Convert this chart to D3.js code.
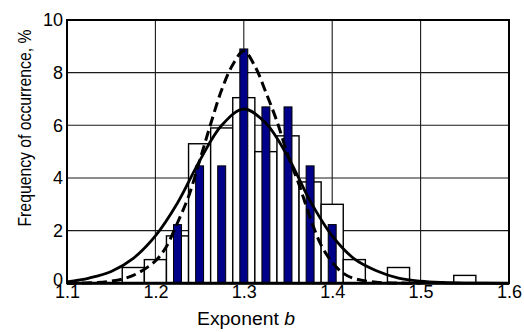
<!DOCTYPE html>
<html>
<head>
<meta charset="utf-8">
<script src="https://cdn.jsdelivr.net/npm/d3@7"></script>
<style>
  html, body { margin: 0; padding: 0; background: #fff; }
  svg { display: block; }
  text { font-family: "Liberation Sans", Arial, sans-serif; fill: #000; }
</style>
</head>
<body>
<svg id="chart" width="524" height="332"></svg>
<script>
// ---- data ----
const whiteCenters = [1.175, 1.2, 1.225, 1.25, 1.275, 1.3, 1.325, 1.35, 1.375, 1.4, 1.425, 1.475, 1.55];
const whiteValues  = [0.6,   0.9, 1.8,   5.3,  5.9,   7.05, 5.0,  5.6,  3.85,  3.0, 0.9,   0.6,   0.3];

const blueCenters = [1.225, 1.25, 1.275, 1.3,  1.325, 1.35, 1.375, 1.4];
const blueValues  = [2.23,  4.46, 4.46,  8.9,  6.7,   6.7,  4.46,  2.23];

// solid fitted curve (read points)
const solidX = [1.10, 1.125, 1.15, 1.175, 1.20, 1.225, 1.25, 1.275, 1.30, 1.325, 1.35, 1.375, 1.40, 1.425, 1.45, 1.475, 1.50, 1.525, 1.55, 1.60];
const solidY = [0.05, 0.2,   0.45, 0.95,  1.8,  3.05,  4.65, 6.0,   6.62, 6.08,  4.8,  3.13,  1.8,  0.93,  0.48, 0.2,   0.08, 0.03,  0.01, 0.0];

// dashed fitted curve (read points)
const dashX = [1.10, 1.125, 1.15, 1.175, 1.20, 1.2125, 1.225, 1.2375, 1.25, 1.2625, 1.275, 1.2875, 1.30, 1.3125, 1.325, 1.3375, 1.35, 1.3625, 1.375, 1.3875, 1.40, 1.4125, 1.425, 1.45, 1.475, 1.50];
const dashY = [0.0,  0.02,  0.08, 0.3,   0.85, 1.4,    2.3,   3.3,    4.65, 6.05,   7.35,  8.3,    8.82, 8.25,   7.25,  6.15,   4.85, 3.75,   2.5,   1.45,   0.8,  0.38,   0.18,  0.04, 0.01,  0.0];

const xTicks = [1.1, 1.2, 1.3, 1.4, 1.5, 1.6];
const yTicks = [0, 2, 4, 6, 8, 10];

const whiteWidth = 0.025;
const blueWidth = 0.009;

// ---- layout ----
const svg = d3.select("#chart");
const mLeft = 67, mRight = 509, mTop = 20, mBottom = 283.3;

const x = d3.scaleLinear().domain([1.1, 1.6]).range([mLeft, mRight]);
const y = d3.scaleLinear().domain([0, 10]).range([mBottom, mTop]);

// gridlines
const grid = svg.append("g");
grid.selectAll("line.vx").data(xTicks.slice(1, -1)).enter().append("line")
  .attr("x1", d => x(d)).attr("x2", d => x(d))
  .attr("y1", mTop).attr("y2", mBottom)
  .attr("stroke", "#1a1a1a").attr("stroke-width", 1.1);
grid.selectAll("line.hy").data(yTicks.slice(1, -1)).enter().append("line")
  .attr("x1", mLeft).attr("x2", mRight)
  .attr("y1", d => y(d)).attr("y2", d => y(d))
  .attr("stroke", "#1a1a1a").attr("stroke-width", 1.1);

// white bars
svg.append("g").selectAll("rect").data(whiteCenters).enter().append("rect")
  .attr("x", d => x(d - whiteWidth / 2))
  .attr("width", d => x(d + whiteWidth / 2) - x(d - whiteWidth / 2))
  .attr("y", (d, i) => y(whiteValues[i]))
  .attr("height", (d, i) => y(0) - y(whiteValues[i]))
  .attr("fill", "#fff").attr("stroke", "#000").attr("stroke-width", 1.4);

// blue bars
svg.append("g").selectAll("rect").data(blueCenters).enter().append("rect")
  .attr("x", d => x(d - blueWidth / 2))
  .attr("width", d => x(d + blueWidth / 2) - x(d - blueWidth / 2))
  .attr("y", (d, i) => y(blueValues[i]))
  .attr("height", (d, i) => y(0) - y(blueValues[i]))
  .attr("fill", "#000088").attr("stroke", "#000").attr("stroke-width", 1);

// curves
const line = d3.line().x(d => x(d[0])).y(d => y(d[1])).curve(d3.curveCatmullRom.alpha(0.5));
svg.append("path")
  .attr("d", line(solidX.map((v, i) => [v, solidY[i]])))
  .attr("fill", "none").attr("stroke", "#000").attr("stroke-width", 2.8);
svg.append("path")
  .attr("d", line(dashX.map((v, i) => [v, dashY[i]])))
  .attr("fill", "none").attr("stroke", "#000").attr("stroke-width", 3)
  .attr("stroke-dasharray", "10,5");

// frame
svg.append("rect")
  .attr("x", mLeft).attr("y", mTop)
  .attr("width", mRight - mLeft).attr("height", mBottom - mTop)
  .attr("fill", "none").attr("stroke", "#000").attr("stroke-width", 2);
svg.append("line")
  .attr("x1", mLeft).attr("x2", mRight).attr("y1", mBottom).attr("y2", mBottom)
  .attr("stroke", "#000").attr("stroke-width", 3);

// axes (labels only, via d3 axes)
const xAxis = d3.axisBottom(x).tickValues(xTicks).tickFormat(d3.format(".1f")).tickSize(0).tickPadding(2);
const gx = svg.append("g").attr("transform", `translate(0,${mBottom})`).call(xAxis);
gx.select(".domain").remove();
gx.selectAll("text").style("font-size", "18px").style("font-family", "'Liberation Sans', Arial, sans-serif");

const yAxis = d3.axisLeft(y).tickValues(yTicks).tickFormat(d3.format("d")).tickSize(0).tickPadding(4);
const gy = svg.append("g").attr("transform", `translate(${mLeft},0)`).call(yAxis);
gy.select(".domain").remove();
gy.selectAll("text").style("font-size", "18px").style("font-family", "'Liberation Sans', Arial, sans-serif");
// nudge the "0" label up a little so it does not sit on the "1.1" label
gy.selectAll(".tick").filter(d => d === 0).select("text").attr("dy", "0.1em");

// titles
const xt = svg.append("text")
  .attr("x", 246).attr("y", 325)
  .attr("text-anchor", "middle")
  .attr("textLength", 98).attr("lengthAdjust", "spacingAndGlyphs")
  .style("font-size", "18px");
xt.append("tspan").text("Exponent ");
xt.append("tspan").attr("font-style", "italic").text("b");

svg.append("text")
  .attr("transform", "translate(31,128) rotate(-90)")
  .attr("text-anchor", "middle")
  .attr("textLength", 197).attr("lengthAdjust", "spacingAndGlyphs")
  .style("font-size", "18px")
  .text("Frequency of occurrence, %");
</script>
</body>
</html>
